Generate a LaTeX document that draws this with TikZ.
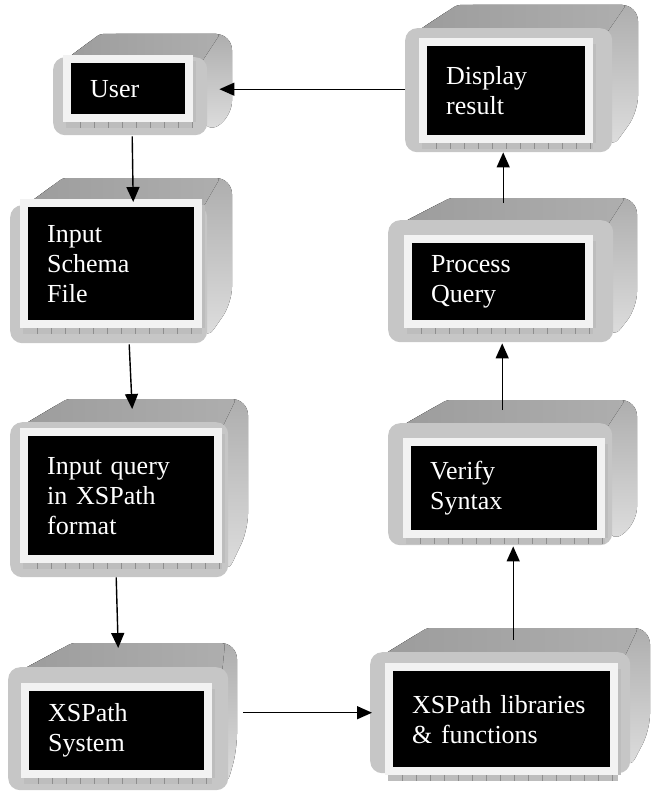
\documentclass[tikz,border=0pt]{standalone}
\usepackage{fontspec}
\setmainfont{Liberation Serif}
\usetikzlibrary{arrows.meta,calc}
\definecolor{topdark}{HTML}{9C9C9C}
\definecolor{toplight}{HTML}{AEAEAE}
\definecolor{sidegray}{HTML}{DFDFDF}
\definecolor{frontgray}{HTML}{C6C6C6}
\definecolor{framewhite}{HTML}{F2F2F2}
\definecolor{tickgray}{HTML}{BDBDBD}
\definecolor{tickline}{HTML}{8E8E8E}
\tikzset{
  frontface/.style={draw=none, fill=frontgray, rounded corners=12pt, inner sep=0pt, anchor=north west},
  screenbox/.style={fill=black, text=white, inner sep=0pt, anchor=north west, align=left,
    font=\fontsize{26}{30}\selectfont},
  tickmark/.style={draw=tickline, line width=0.4pt},
  flow/.style={line width=1.4pt, -{Triangle[length=15pt,width=13pt]}},
}
\def\monitor#1#2#3#4#5{\monitorA{#1}#2;#3;#4;{#5}}
\def\monitorA#1#2,#3,#4,#5;#6,#7,#8,#9;{%
  \def\mfxa{#2}\def\mfya{#3}\def\mfxb{#4}\def\mfyb{#5}%
  \def\mtlx{#6}\def\mty{#7}\def\mrx{#8}\def\mry{#9}%
  \monitorB{#1}}
\def\monitorB#1#2,#3,#4,#5;#6{%
  \pgfmathsetmacro\mfw{\mfxb-\mfxa}%
  \pgfmathsetmacro\mfh{\mfyb-\mfya}%
  \pgfmathsetmacro\msw{#4-#2-16}%
  \pgfmathsetmacro\msh{#5-#3-16}%
  \pgfmathsetmacro\mtw{\msw-38}%
  \pgfmathtruncatemacro\mnt{(#4-#2-3)/14}%
  % back silhouette (right face)
  \fill[top color=toplight, middle color=sidegray, bottom color=sidegray, rounded corners=16pt]
     (\mfxa+8,-\mfya-6) -- (\mtlx,-\mty) -- (\mrx,-\mty)
     -- (\mrx,-\mry) -- (\mfxb-2,-\mfyb+1) -- (\mfxb-10,-\mfya) -- cycle;
  % top face
  \fill[left color=topdark, right color=toplight, rounded corners=3pt] (\mfxa+8,-\mfya-6)
     -- (\mtlx,-\mty) -- (\mrx-12,-\mty) -- (\mfxb-6,-\mfya-6) -- cycle;
  % front face
  \node[frontface, minimum width=\mfw, minimum height=\mfh] (#1) at (\mfxa,-\mfya) {};
  % white frame
  \fill[framewhite] (#2,-#3) rectangle (#4,-#5);
  % tick strips
  \fill[tickgray] (#2+3,-#5) rectangle (#4,-#5-6);
  \foreach \k in {1,...,\mnt} {\draw[tickmark] (#2+3+14*\k,-#5) -- ++(0,-6);}
  \fill[tickgray] (#4,-#3-6) rectangle (#4+3,-#5);
  % screen with text
  \node[screenbox, minimum width=\msw, minimum height=\msh, text width=\mtw] (#1s) at (#2+8,-#3-8) {#6};
}
\begin{document}
\begin{tikzpicture}[x=1pt,y=1pt]
\useasboundingbox (0,0) rectangle (651,-792);
\monitor{user}{53,57,207,135}{100,34,232,117}{63,55,193,122}{User}
\monitor{schema}{10,205,207,343}{63,178,232,303}{20,199,202,328}{Input\\Schema\\File}
\monitor{query}{10,422,228,577}{67,399,248,530}{20,428,222,563}{Input query\\in XSPath\\format}
\monitor{system}{8,667,228,790}{72,643,237,750}{21,683,212,778}{XSPath\\System}
\monitor{libs}{370,652,630,773}{427,628,650,730}{385,663,618,775}{XSPath libraries\\\& functions}
\monitor{verify}{388,423,612,545}{447,400,637,523}{403,438,605,538}{Verify\\Syntax}
\monitor{process}{388,220,613,342}{450,198,637,308}{404,235,593,328}{Process\\Query}
\monitor{display}{405,28,612,152}{457,5,638,112}{419,38,593,143}{Display\\result}
% connectors
\draw[flow] ($(display.west)+(0,1)$) -- ($(user.east)+(12,7)$);
\draw[flow] ($(user.south)+(2,-1)$) -- ($(schema.north)+(24.5,3)$);
\draw[flow] ($(schema.south)+(20.5,-1)$) -- ($(query.north)+(13,13)$);
\draw[flow] ($(query.south)+(-3,0)$) -- ($(system.north)+(0,19)$);
\draw[flow] ($(system.east |- libs.west)+(15,0)$) -- ($(libs.west)+(2,0)$);
\draw[flow] ($(libs.north)+(13,12)$) -- ($(verify.south)+(13,-1)$);
\draw[flow] ($(verify.north)+(2,13)$) -- ($(process.south)+(1.5,-1)$);
\draw[flow] ($(process.north)+(2.5,17)$) -- ($(display.south)+(-5.5,0)$);
\end{tikzpicture}
\end{document}
